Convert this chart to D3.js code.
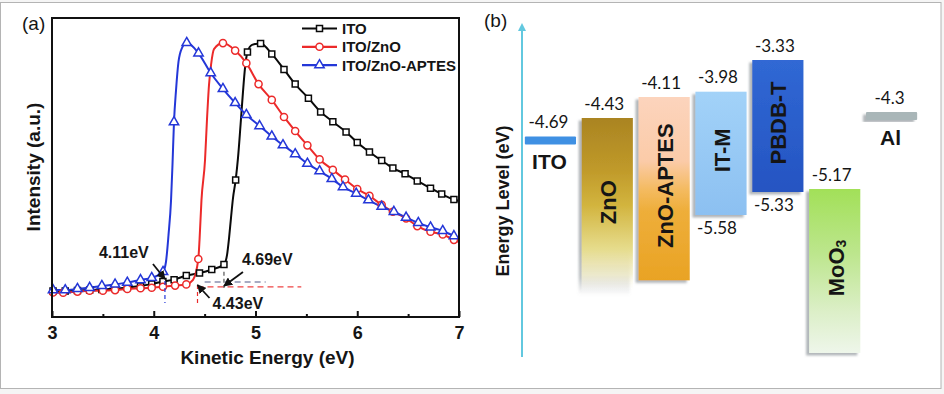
<!DOCTYPE html>
<html><head><meta charset="utf-8">
<script src="https://cdn.jsdelivr.net/npm/d3@7"></script>
<style>
html,body{margin:0;padding:0;background:#f5f5f5;}
svg{display:block;}
</style></head><body>
<svg id="chart" width="944" height="394"></svg>
<script>
// ================= DATA : panel (a) secondary-electron cutoff =================
const seriesNames = ["ITO", "ITO/ZnO", "ITO/ZnO-APTES"];
const xTicks = [3, 4, 5, 6, 7];
const xMinorTicks = [3.5, 4.5, 5.5, 6.5];

// ITO (black, squares) – marker points
const itoEnergy = [3.01,3.13,3.25,3.37,3.49,3.62,3.74,3.87,3.98,4.09,4.20,4.32,4.45,4.57,4.69,4.805,4.921,5.05,5.16,5.28,5.39,5.52,5.64,5.76,5.89,6.00,6.12,6.24,6.35,6.47,6.59,6.72,6.83,6.95];
const itoIntensity = [8.7,8.7,8.9,9.0,9.2,9.5,9.9,10.4,11.0,11.9,12.5,13.9,14.7,15.9,17.6,45.8,88.6,91.5,88.0,82.8,77.9,73.2,68.6,65.3,61.9,58.4,55.2,52.3,49.8,47.9,45.5,43.1,41.1,39.3];
// ITO – line-only points on the cutoff edge and the end
const itoEdgeEnergy = [4.720,4.740,4.759,4.779,4.828,4.853,4.877,4.897,4.966,7.00];
const itoEdgeIntensity = [20.7,26.4,33.1,39.8,53.2,64.2,75.3,83.3,91.0,38.8];

// ITO/ZnO (red, circles)
const znoEnergy = [3.01,3.11,3.25,3.37,3.50,3.62,3.74,3.87,3.98,4.09,4.21,4.32,4.438,4.68,4.80,4.91,5.03,5.16,5.28,5.39,5.51,5.63,5.76,5.88,6.00,6.12,6.24,6.35,6.48,6.59,6.72,6.84,6.95];
const znoIntensity = [8.2,8.1,8.5,8.8,8.8,9.0,9.4,9.6,9.8,10.1,10.5,10.9,19.4,91.6,89.1,84.9,77.9,72.6,66.9,62.2,57.4,52.7,49.2,46.0,42.8,40.5,37.5,35.2,33.0,30.4,28.5,27.6,25.8];
const znoEdgeEnergy = [4.386,4.450,4.469,4.504,4.523,4.543,4.563,4.592,7.00];
const znoEdgeIntensity = [12.4,25.8,39.1,52.5,65.9,77.6,84.3,89.6,25.1];

// ITO/ZnO-APTES (blue, triangles)
const aptesEnergy = [3.01,3.13,3.25,3.37,3.49,3.62,3.74,3.87,3.98,4.091,4.199,4.324,4.44,4.56,4.68,4.80,4.91,5.04,5.16,5.27,5.39,5.51,5.63,5.75,5.86,5.99,6.11,6.24,6.36,6.48,6.60,6.72,6.84,6.95];
const aptesIntensity = [9.0,9.0,9.4,9.8,10.4,10.9,11.5,12.4,13.1,15.1,65.2,91.7,88.2,81.6,76.3,71.6,67.6,63.9,60.4,57.5,54.5,51.3,48.8,46.2,43.5,41.3,39.1,36.9,35.2,33.3,31.5,30.0,28.8,27.1];
const aptesEdgeEnergy = [4.120,4.145,4.170,4.184,4.219,4.243,4.278,7.00];
const aptesEdgeIntensity = [18.4,27.4,39.1,50.8,75.9,85.3,90.0,26.4];

// Work-function cutoffs (blue, red, black)
const onsetValues = [4.11, 4.43, 4.69];
const onsetLabels = ["4.11eV", "4.43eV", "4.69eV"];
const onsetTipIntensity = [12.7, 10.7, 10.4];
const onsetDashTop = [12.0, 10.7, 15.1];
const onsetDashBottom = [4.7, 4.0, 9.7];
// extrapolated baselines
const baseDashStart = [4.43, 4.50];
const baseDashEnd = [5.45, 5.10];
const baseDashLevel = [10.1, 11.7];

// ================= DATA : panel (b) energy-level diagram =================
const layers = ["ITO", "ZnO", "ZnO-APTES", "IT-M", "PBDB-T", "MoO3", "Al"];
const layerTop = [-4.69, -4.43, -4.11, -3.98, -3.33, -5.17, -4.3];
const layerBottom = [null, -7.5, -7.2, -5.58, -5.33, -9.0, null]; // null = electrode (single level)
const topLabels = ["-4.69", "-4.43", "-4.11", "-3.98", "-3.33", "-5.17", "-4.3"];
const bottomLabels = [null, null, null, "-5.58", "-5.33", null, null];

// ================= DRAWING =================
const svg = d3.select("#chart");
const FA = "'Liberation Sans', Arial, sans-serif";
const FB = "Lato, 'Open Sans', sans-serif";
const txt = "#151515";

svg.append("rect").attr("x", 0.5).attr("y", 2.5).attr("width", 940.5).attr("height", 386)
  .attr("fill", "#fff").attr("stroke", "#b4b4b4").attr("stroke-width", 1);

const defs = svg.append("defs");

// ---------- panel (a) ----------
const xA = d3.scaleLinear().domain([3, 7]).range([52, 459]);
const yA = d3.scaleLinear().domain([0, 100]).range([317, 18]);
const gA = svg.append("g");

const series = [
  {name: seriesNames[0], e: itoEnergy, i: itoIntensity, ee: itoEdgeEnergy, ei: itoEdgeIntensity, color: "#0a0a0a", sym: d3.symbolSquare, size: 36},
  {name: seriesNames[1], e: znoEnergy, i: znoIntensity, ee: znoEdgeEnergy, ei: znoEdgeIntensity, color: "#ec2a2a", sym: d3.symbolCircle, size: 40},
  {name: seriesNames[2], e: aptesEnergy, i: aptesIntensity, ee: aptesEdgeEnergy, ei: aptesEdgeIntensity, color: "#2437d8", sym: d3.symbolTriangle, size: 38}
];

const line = d3.line().x(d => xA(d[0])).y(d => yA(d[1])).curve(d3.curveMonotoneX);
const clipA = defs.append("clipPath").attr("id", "clipA");
clipA.append("rect").attr("x", 52).attr("y", 18).attr("width", 407).attr("height", 299);

series.forEach(s => {
  const pts = s.e.map((e, k) => [e, s.i[k]]).concat(s.ee.map((e, k) => [e, s.ei[k]]))
    .sort((a, b) => a[0] - b[0]);
  gA.append("path").attr("d", line(pts)).attr("fill", "none")
    .attr("stroke", s.color).attr("stroke-width", 2).attr("clip-path", "url(#clipA)");
});
series.forEach(s => {
  gA.append("g").selectAll("path").data(s.e.map((e, k) => [e, s.i[k]])).join("path")
    .attr("d", d3.symbol().type(s.sym).size(s.size))
    .attr("transform", d => `translate(${xA(d[0])},${yA(d[1])})`)
    .attr("fill", "#fff").attr("stroke", s.color).attr("stroke-width", 1.5);
});

// dashed guides
const onsetColors = ["#2437d8", "#ec2a2a", "#555"];
onsetValues.forEach((v, k) => {
  gA.append("line").attr("x1", xA(v)).attr("x2", xA(v))
    .attr("y1", yA(onsetDashTop[k])).attr("y2", yA(onsetDashBottom[k]))
    .attr("stroke", onsetColors[k]).attr("stroke-width", 1.2).attr("stroke-dasharray", "4,3");
});
const baseColors = ["#ee4444", "#8a90b0"];
baseDashStart.forEach((v, k) => {
  gA.append("line").attr("x1", xA(v)).attr("x2", xA(baseDashEnd[k]))
    .attr("y1", yA(baseDashLevel[k])).attr("y2", yA(baseDashLevel[k]))
    .attr("stroke", baseColors[k]).attr("stroke-width", 1.3).attr("stroke-dasharray", "6,4");
});

// arrows + labels
defs.append("marker").attr("id", "arr").attr("viewBox", "0 0 10 10").attr("refX", 9).attr("refY", 5)
  .attr("markerWidth", 5).attr("markerHeight", 5).attr("orient", "auto")
  .append("path").attr("d", "M0,0L10,5L0,10z").attr("fill", "#111");
const arrowTail = [[-12, -15], [12, 13], [19, -14]];
const labelOff = [[-66, -27], [15, 18], [18, -26]];
onsetValues.forEach((v, k) => {
  const tx = xA(v), ty = yA(onsetTipIntensity[k]);
  gA.append("line").attr("x1", tx + arrowTail[k][0]).attr("y1", ty + arrowTail[k][1])
    .attr("x2", tx).attr("y2", ty).attr("stroke", "#111").attr("stroke-width", 1.8)
    .attr("marker-end", "url(#arr)");
  gA.append("text").attr("x", tx + labelOff[k][0]).attr("y", ty + labelOff[k][1])
    .attr("dominant-baseline", "central").attr("font-family", FA).attr("font-weight", "bold")
    .attr("font-size", 16).attr("fill", txt).text(onsetLabels[k]);
});

// frame + axes
gA.append("rect").attr("x", 52).attr("y", 18).attr("width", 407).attr("height", 299)
  .attr("fill", "none").attr("stroke", "#111").attr("stroke-width", 2);
const axA = gA.append("g").attr("transform", "translate(0,317)")
  .call(d3.axisBottom(xA).tickValues(xTicks).tickFormat(d3.format("d")).tickSizeInner(-6).tickSizeOuter(0).tickPadding(9));
axA.select(".domain").remove();
axA.selectAll("line").attr("stroke", "#111").attr("stroke-width", 2);
axA.selectAll("text").attr("font-family", FA).attr("font-weight", "bold").attr("font-size", 18).attr("fill", txt);
const axAm = gA.append("g").attr("transform", "translate(0,317)")
  .call(d3.axisBottom(xA).tickValues(xMinorTicks).tickFormat("").tickSizeInner(-3).tickSizeOuter(0));
axAm.select(".domain").remove();
axAm.selectAll("line").attr("stroke", "#111").attr("stroke-width", 2);

gA.append("text").attr("x", (52 + 459) / 2 + 12).attr("y", 357).attr("text-anchor", "middle")
  .attr("dominant-baseline", "central").attr("font-family", FA).attr("font-weight", "bold")
  .attr("font-size", 19).attr("fill", txt).text("Kinetic Energy (eV)");
gA.append("text").attr("transform", "translate(33,167) rotate(-90)").attr("text-anchor", "middle")
  .attr("dominant-baseline", "central").attr("font-family", FA).attr("font-weight", "bold")
  .attr("font-size", 19).attr("fill", txt).text("Intensity (a.u.)");
gA.append("text").attr("x", 22).attr("y", 23).attr("dominant-baseline", "central")
  .attr("font-family", FA).attr("font-size", 19).attr("fill", txt).text("(a)");

// legend
series.forEach((s, k) => {
  const ly = 28.5 + k * 18.3;
  gA.append("line").attr("x1", 302).attr("x2", 337).attr("y1", ly).attr("y2", ly)
    .attr("stroke", s.color).attr("stroke-width", 2.2);
  gA.append("path").attr("d", d3.symbol().type(s.sym).size(s.size)())
    .attr("transform", `translate(319.5,${ly})`).attr("fill", "#fff")
    .attr("stroke", s.color).attr("stroke-width", 1.5);
  gA.append("text").attr("x", 342).attr("y", ly).attr("dominant-baseline", "central")
    .attr("font-family", FA).attr("font-weight", "bold").attr("font-size", 15)
    .attr("fill", txt).text(s.name);
});

// ---------- panel (b) ----------
const gB = svg.append("g");
const xB = d3.scaleBand().domain(layers).range([522, 920]).paddingInner(0.1).paddingOuter(0.05);
// schematic (not-to-scale) energy axis: piecewise-linear scale
const yB = d3.scaleLinear()
  .domain([-3.33, -3.98, -4.11, -4.3, -4.43, -4.69, -5.17, -5.33, -5.58, -9.1])
  .range([60, 91.7, 97, 116, 118, 140.5, 189, 192, 215, 357]);

function grad(id, stops) {
  const g = defs.append("linearGradient").attr("id", id).attr("x1", 0).attr("y1", 0).attr("x2", 0).attr("y2", 1);
  stops.forEach(s => g.append("stop").attr("offset", s[0]).attr("stop-color", s[1]).attr("stop-opacity", s[2] == null ? 1 : s[2]));
}
grad("gZnO", [[0, "#aa8422"], [0.3, "#c09a2a"], [0.5, "#d2b43e"], [0.75, "#e6dc8c"], [0.9, "#f3efcc", 0.8], [1, "#ffffff", 0]]);
grad("gAPTES", [[0, "#fcd4bd"], [0.35, "#fbcba8"], [0.5, "#f4bb62"], [0.62, "#eeae3a"], [1, "#e9a324"]]);
grad("gITM", [[0, "#a2d2f8"], [1, "#8cc0f1"]]);
grad("gPBDB", [[0, "#3068d4"], [1, "#2554c2"]]);
grad("gMoO3", [[0, "#a2e058"], [0.4, "#bde68e"], [0.75, "#dcefc8"], [1, "#eef6ea"]]);
const fill = {"ITO": "#3f90e3", "ZnO": "url(#gZnO)", "ZnO-APTES": "url(#gAPTES)", "IT-M": "url(#gITM)",
  "PBDB-T": "url(#gPBDB)", "MoO3": "url(#gMoO3)", "Al": "#a9b6b8"};

const f = defs.append("filter").attr("id", "shadow").attr("x", "-20%").attr("y", "-10%").attr("width", "140%").attr("height", "125%");
f.append("feDropShadow").attr("dx", -3).attr("dy", 2.5).attr("stdDeviation", 1)
  .attr("flood-color", "#6f7a80").attr("flood-opacity", 0.55);

// axis arrow
defs.append("marker").attr("id", "arrB").attr("viewBox", "0 0 10 10").attr("refX", 5).attr("refY", 5)
  .attr("markerWidth", 4).attr("markerHeight", 4).attr("orient", "auto")
  .append("path").attr("d", "M0,0L10,5L0,10z").attr("fill", "#62c8df");
gB.append("line").attr("x1", 522).attr("x2", 522).attr("y1", 357).attr("y2", 27)
  .attr("stroke", "#62c8df").attr("stroke-width", 2).attr("marker-end", "url(#arrB)");
gB.append("text").attr("transform", "translate(503,201) rotate(-90)").attr("text-anchor", "middle")
  .attr("dominant-baseline", "central").attr("font-family", FA).attr("font-weight", "bold")
  .attr("font-size", 18).attr("fill", txt).text("Energy Level (eV)");
gB.append("text").attr("x", 484).attr("y", 20).attr("dominant-baseline", "central")
  .attr("font-family", FA).attr("font-size", 19).attr("fill", txt).text("(b)");

const bw = xB.bandwidth();
layers.forEach((l, k) => {
  const x = xB(l), cx = x + bw / 2;
  if (layerBottom[k] == null) {
    const y = yB(layerTop[k]);
    gB.append("rect").attr("x", x).attr("y", y - 4).attr("width", bw).attr("height", 8)
      .attr("rx", 1).attr("fill", fill[l]).attr("filter", l === "Al" ? "url(#shadow)" : null);
    gB.append("text").attr("x", cx - 2).attr("y", y - 19).attr("text-anchor", "middle")
      .attr("dominant-baseline", "central").attr("font-family", FB).attr("font-size", 17)
      .attr("fill", txt).text(topLabels[k]);
    gB.append("text").attr("x", cx - 1).attr("y", y + 21).attr("text-anchor", "middle")
      .attr("dominant-baseline", "central").attr("font-family", FA).attr("font-weight", "bold")
      .attr("font-size", 21).attr("fill", txt).text(l);
  } else {
    const y0 = yB(layerTop[k]), y1 = yB(layerBottom[k]);
    gB.append("rect").attr("x", x).attr("y", y0).attr("width", bw).attr("height", y1 - y0)
      .attr("fill", fill[l]).attr("filter", "url(#shadow)");
    gB.append("text").attr("x", cx - 3).attr("y", y0 - 15).attr("text-anchor", "middle")
      .attr("dominant-baseline", "central").attr("font-family", FB).attr("font-size", 17)
      .attr("fill", txt).text(topLabels[k]);
    if (bottomLabels[k]) {
      gB.append("text").attr("x", cx - 4).attr("y", y1 + 12).attr("text-anchor", "middle")
        .attr("dominant-baseline", "central").attr("font-family", FB).attr("font-size", 17)
        .attr("fill", txt).text(bottomLabels[k]);
    }
    const t = gB.append("text").attr("transform", `translate(${cx + 1},${(y0 + y1) / 2 - 3}) rotate(-90)`)
      .attr("text-anchor", "middle").attr("dominant-baseline", "central")
      .attr("font-family", FA).attr("font-weight", "bold").attr("font-size", 22).attr("fill", txt);
    if (l === "MoO3") {
      t.append("tspan").text("MoO");
      t.append("tspan").attr("font-size", 14).attr("dy", 5).text("3");
    } else {
      t.text(l);
    }
  }
});
</script>
</body></html>
